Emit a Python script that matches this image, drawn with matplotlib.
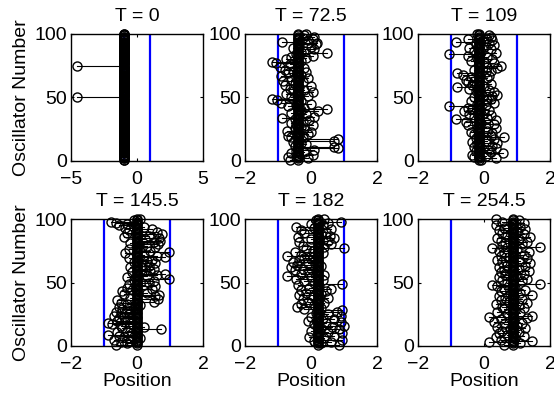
import matplotlib
matplotlib.use('Agg')
from matplotlib import pyplot as plt

plt.rcParams['font.family'] = ['Liberation Sans', 'DejaVu Sans']
plt.rcParams['font.size'] = 14

times = ['0', '72.5', '109', '145.5', '182', '254.5']
centers = [-1.0, -0.38, -0.16, 0.01, 0.21, 0.87]
xlims = [(-5, 5), (-2, 2), (-2, 2), (-2, 2), (-2, 2), (-2, 2)]
xticks = [[-5, 0, 5], [-2, 0, 2], [-2, 0, 2], [-2, 0, 2], [-2, 0, 2], [-2, 0, 2]]
bounds = [-1, 1]

# oscillator positions, index 1..100 from bottom to top
pos_T0 = [-1.0] * 49 + [-4.55] + [-1.0] * 24 + [-4.55] + [-1.0] * 25
pos_T72 = [-0.65, -0.1, -0.7, -0.35, 0.05, -0.6, -0.2, -0.45, 0.1, 0.83,
           0.7, -0.5, -0.15, -0.3, -0.55, 0.7, 0.83, -0.25, -0.6, -0.7,
           -0.1, -0.4, 0.0, -0.73, -0.2, -0.5, -0.3, 0.05, -0.45, -0.6,
           -0.25, -0.05, -0.5, -0.88, 0.1, -0.35, -0.15, -0.6, 0.2, -0.3,
           0.49, -0.2, -0.7, -0.45, 0.0, -0.9, -0.3, -1.03, -1.19, -0.6,
           -0.1, -0.4, -0.75, 0.05, -0.55, -0.2, -0.65, -0.35, 0.0, -0.8,
           -0.5, -0.25, -0.85, -0.6, -0.1, -0.45, -0.9, -0.3, -0.7, -0.15,
           -0.55, -0.8, -0.2, -0.95, -0.4, -0.65, -1.05, -1.19, -0.3, -0.75,
           -0.15, -0.6, 0.05, -0.45, 0.49, -0.3, -0.2, 0.1, -0.55, 0.0,
           -0.35, 0.15, 0.19, -0.88, -0.1, 0.05, -0.25, 0.1, -0.2, -0.15]
pos_T109 = [-0.1, 0.35, -0.3, 0.05, -0.35, 0.57, 0.2, -0.25, 0.15, 0.35,
            -0.3, 0.25, -0.2, 0.4, -0.35, 0.1, 0.3, -0.25, 0.6, 0.2,
            -0.3, 0.25, -0.4, 0.1, -0.2, 0.35, 0.05, -0.5, 0.3, -0.1,
            -0.55, 0.35, -0.86, 0.1, -0.3, 0.2, -0.45, 0.0, -0.6, 0.15,
            -0.35, -0.5, -1.06, 0.05, -0.2, 0.3, -0.4, 0.1, 0.2, -0.3,
            0.25, 0.4, -0.1, 0.3, -0.25, 0.15, -0.45, -0.81, 0.0, -0.35,
            0.2, -0.5, -0.3, -0.56, 0.1, -0.4, 0.15, -0.65, -0.81, 0.05,
            0.2, -0.3, 0.4, 0.1, 0.5, -0.15, 0.3, 0.0, -0.4, 0.25,
            -0.2, 0.1, -0.5, -1.06, 0.35, -0.1, -0.3, 0.2, -0.45, 0.0,
            0.3, -0.25, 0.15, -0.86, 0.25, -0.5, 0.05, 0.2, 0.15, -0.2]
pos_T145 = [-0.65, -0.3, -0.5, -0.2, -0.7, 0.1, -0.4, -0.55, -0.87, -0.15,
            -0.6, -0.3, 0.74, -0.45, 0.2, -0.5, -0.75, -0.87, -0.35, -0.6,
            -0.2, -0.55, -0.4, -0.7, -0.25, -0.5, -0.65, -0.3, -0.45, -0.1,
            -0.55, 0.1, -0.3, -0.5, 0.5, -0.6, 0.65, -0.2, 0.55, 0.66,
            -0.4, 0.3, -0.45, -0.15, 0.45, -0.3, 0.55, 0.2, -0.25, 0.35,
            0.5, -0.1, 0.96, -0.3, 0.3, 0.6, 0.86, -0.15, 0.4, 0.25,
            0.5, -0.2, 0.35, 0.15, 0.55, -0.1, 0.3, 0.45, -0.25, 0.86,
            0.6, 0.2, -0.35, 0.96, 0.4, -0.25, 0.1, 0.55, 0.3, 0.65,
            -0.2, 0.5, 0.7, 0.25, 0.66, -0.4, 0.35, 0.75, -0.3, 0.61,
            -0.25, 0.45, -0.35, 0.2, -0.55, -0.3, -0.65, -0.8, -0.1, 0.1]
pos_T182 = [0.85, 0.3, 0.6, 0.1, 0.95, 0.4, -0.05, 0.7, 0.2, 0.95,
            0.5, 0.0, 0.85, 0.3, 0.65, 1.0, 0.1, 0.45, 0.9, -0.1,
            0.7, 0.35, 0.0, 0.9, 0.5, 0.15, 0.8, 0.95, -0.2, 0.3,
            -0.42, 0.1, -0.3, 0.4, -0.1, 0.2, -0.25, 0.5, 0.05, -0.35,
            0.3, -0.15, 0.45, -0.3, 0.6, -0.05, 0.25, -0.4, 0.95, 0.1,
            -0.2, 0.35, -0.45, 0.0, -0.72, 0.4, -0.3, -0.1, 0.15, -0.5,
            -0.25, -0.6, 0.3, -0.43, -0.1, -0.55, 0.1, -0.35, -0.2, 0.05,
            -0.72, -0.3, 0.35, -0.5, 0.05, -0.15, 1.0, 0.4, -0.25, 0.6,
            0.25, -0.35, 0.5, 0.0, 0.7, -0.4, 0.57, 0.3, -0.2, 0.45,
            -0.3, 0.6, 0.1, -0.45, 0.35, 0.0, 0.5, 0.9, 0.15, 0.4]
pos_T254 = [0.6, 1.1, 0.15, 1.45, 0.5, 0.95, 0.35, 1.2, 0.7, 0.45,
            1.05, 0.55, 0.8, 1.25, 0.4, 1.0, 0.6, 1.15, 0.3, 0.9,
            0.5, 1.3, 0.15, 1.45, 0.7, 1.1, 0.4, 0.95, 0.6, 1.2,
            0.55, 1.05, 0.35, 1.3, 0.75, 0.5, 1.15, 0.65, 0.45, 1.45,
            0.8, 1.1, 0.5, 1.25, 0.6, 0.95, 0.4, 0.25, 1.7, 0.7,
            1.15, 0.55, 1.3, 0.45, 1.0, 0.65, 1.2, 0.5, 1.35, 0.6,
            1.05, 0.45, 1.25, 0.7, 1.4, 0.55, 1.1, 0.4, 1.3, 0.75,
            0.5, 1.2, 0.6, 1.35, 0.45, 1.0, 0.25, 1.7, 0.55, 1.15,
            0.65, 1.3, 0.5, 1.05, 0.4, 1.4, 0.7, 1.2, 0.55, 1.0,
            0.45, 1.25, 0.6, 1.1, 0.35, 0.85, 1.2, 0.55, 1.05, 0.35]
positions = [pos_T0, pos_T72, pos_T109, pos_T145, pos_T182, pos_T254]

W, H = 554, 398
fig = plt.figure(figsize=(W / 100, H / 100), dpi=100)
lefts = [71, 245, 418]
tops = [34, 219]
aw, ah = 132, 127

for k in range(6):
    r, c = divmod(k, 3)
    ax = fig.add_axes([lefts[c] / W, 1 - (tops[r] + ah) / H, aw / W, ah / H])
    for b in bounds:
        ax.axvline(b, color='blue', lw=1.6, zorder=1)
    cen = centers[k]
    for i, x in enumerate(positions[k], start=1):
        ax.plot([cen, x], [i, i], '-o', color='k', lw=0.8, ms=6.5,
                mfc='none', mew=1.0, zorder=2, clip_on=False)
    ax.set_xlim(*xlims[k])
    ax.set_ylim(0, 100)
    ax.set_xticks(xticks[k])
    ax.set_yticks([0, 50, 100])
    ax.tick_params(direction='in', length=2, top=True, right=True)
    ax.tick_params(axis='x', pad=7)
    ax.tick_params(axis='y', pad=3)
    for s in ax.spines.values():
        s.set_linewidth(1.0)
    ax.set_title('T = ' + times[k], pad=9, fontsize=14)
    if c == 0:
        ax.set_ylabel('Oscillator Number', labelpad=3)
    if r == 1:
        ax.set_xlabel('Position', labelpad=0)

fig.savefig('out.png', dpi=100)
